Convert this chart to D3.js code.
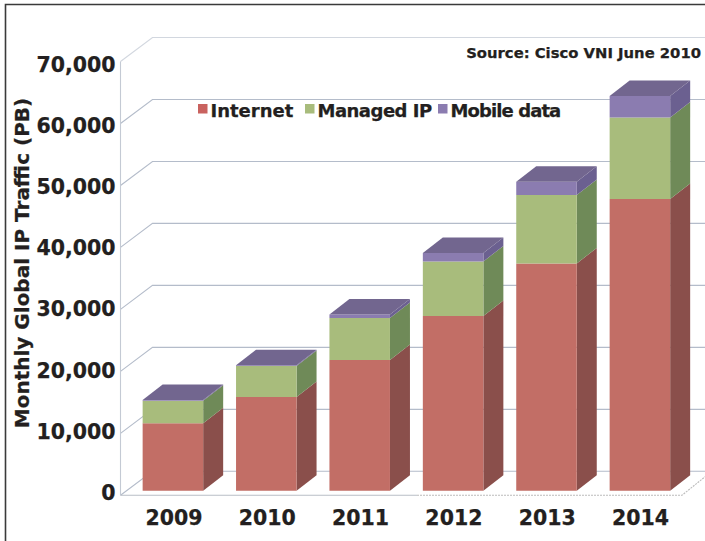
<!DOCTYPE html>
<html><head><meta charset="utf-8">
<style>html,body{margin:0;padding:0;background:#fff}svg{display:block}text{font-family:"DejaVu Sans";font-weight:700;fill:#231f20;stroke:#231f20;stroke-width:.25px}</style>
<script src="https://cdn.jsdelivr.net/npm/d3@7"></script></head>
<body><svg id="c" width="705" height="541"></svg>
<script>
const years = ["2009","2010","2011","2012","2013","2014"];
const internet = [10870,15110,21080,28180,36680,47050];
const managedIP = [3650,5000,6770,8820,11020,13180];
const mobileData = [100,150,600,1340,2140,3480];
const seriesNames = ["Internet","Managed IP","Mobile data"];
const tickValues = [0,10000,20000,30000,40000,50000,60000,70000];

const W=705,H=541;
const front=["#c26e66","#a8bc7c","#8b7cb0"], side=["#8a4f4b","#6f8a58","#6b6090"], topFace="#72668f";
const svg=d3.select("#c");
const rows=years.map((y,i)=>({year:y,"Internet":internet[i],"Managed IP":managedIP[i],"Mobile data":mobileData[i]}));
const stack=d3.stack().keys(seriesNames)(rows);

const yWall=d3.scaleLinear().domain([0,70000]).range([495.3,61.5]);
const yBar=d3.scaleLinear().domain([0,70000]).range([490.7,56.9]);
const yLabel=d3.scaleLinear().domain([0,70000]).range([493,64.6]);
const x=d3.scaleBand().domain(years).range([126.2,686.6]).paddingInner(.352).paddingOuter(.176);
const xLabel=d3.scalePoint().domain(years).range([173.5,640]);
const axisX=120.5, rightX=705, wallDx=32, wallDy=24, barDx=20, barDy=15.5;

// frame
svg.append("path").attr("d",`M5.5,541V4.5H${W}`).attr("fill","none").attr("stroke","#3a3a3a").attr("stroke-width",1.6);

// wall gridlines
const grid=svg.append("g").attr("fill","none").attr("stroke","#b4bcca").attr("stroke-width",1.1);
grid.selectAll("path").data(tickValues).join("path")
  .attr("d",v=>`M${axisX},${yWall(v)}L${axisX+wallDx},${yWall(v)-wallDy}H${rightX}`)
  .attr("stroke-opacity",v=>v===70000?.6:1);
grid.append("path").attr("d",`M${axisX},${yWall(70000)}V${yWall(0)}`).attr("stroke","#c4cad4");
grid.append("path").attr("d",`M${axisX},${yWall(0)}H417`).attr("stroke","#b9bec6");
grid.append("path").attr("d",`M417,${yWall(0)}H682L${rightX},${yWall(0)-18.5}`)
  .attr("stroke","#bcbcbc").attr("stroke-dasharray","2,1");

// bars
const bars=svg.append("g");
const poly=p=>"M"+p.map(a=>a.join(",")).join("L")+"Z";
years.forEach((yr,i)=>{
  const g=bars.append("g"), x0=x(yr), x1=x0+x.bandwidth();
  stack.forEach((s,k)=>{
    const y0=yBar(s[i][0]), y1=yBar(s[i][1]);
    g.append("path").attr("fill",side[k]).attr("d",poly([[x1,y0],[x1+barDx,y0-barDy],[x1+barDx,y1-barDy],[x1,y1]]));
    g.append("path").attr("fill",front[k]).attr("d",poly([[x0,y0],[x1,y0],[x1,y1],[x0,y1]]));
  });
  const yt=yBar(stack[2][i][1]);
  g.append("path").attr("fill",topFace).attr("d",poly([[x0,yt],[x1,yt],[x1+barDx,yt-barDy],[x0+barDx,yt-barDy]]));
});

// y tick labels
const yAxis=svg.append("g").attr("transform","translate(115.5,0)")
  .call(d3.axisLeft(yLabel).tickValues(tickValues).tickSize(0).tickPadding(0).tickFormat(d3.format(",")));
yAxis.select(".domain").remove();
yAxis.selectAll("text").style("font-size","20.5px").style("font-family",'"DejaVu Sans"').style("font-weight",700);

// x tick labels
const xAxis=svg.append("g").attr("transform","translate(0,510)")
  .call(d3.axisBottom(xLabel).tickSize(0).tickPadding(0));
xAxis.select(".domain").remove();
xAxis.selectAll("text").style("font-size","20.5px").style("font-family",'"DejaVu Sans"').style("font-weight",700);

// axis title
svg.append("text").attr("transform","translate(28.5,263) rotate(-90)").attr("text-anchor","middle")
  .style("font-size","20px").text("Monthly Global IP Traffic (PB)");

// legend
const lg=svg.append("g");
const legendAt=d3.scaleOrdinal().domain(seriesNames).range([198,305,438]);
const legendSpacing=d3.scaleOrdinal().domain(seriesNames).range(["0px","-.5px","-.9px"]);
seriesNames.forEach((n,k)=>{
  const lx=legendAt(n);
  lg.append("rect").attr("x",lx).attr("y",104).attr("width",9.5).attr("height",9.5).attr("fill",k===0?"#c9625f":front[k]);
  lg.append("text").attr("x",lx+12.5).attr("y",117).style("font-size","18px").style("letter-spacing",legendSpacing(n)).text(n);
});

// source
svg.append("text").attr("x",701).attr("y",58).attr("text-anchor","end").style("font-size","14.8px").text("Source: Cisco VNI June 2010");
</script></body></html>
